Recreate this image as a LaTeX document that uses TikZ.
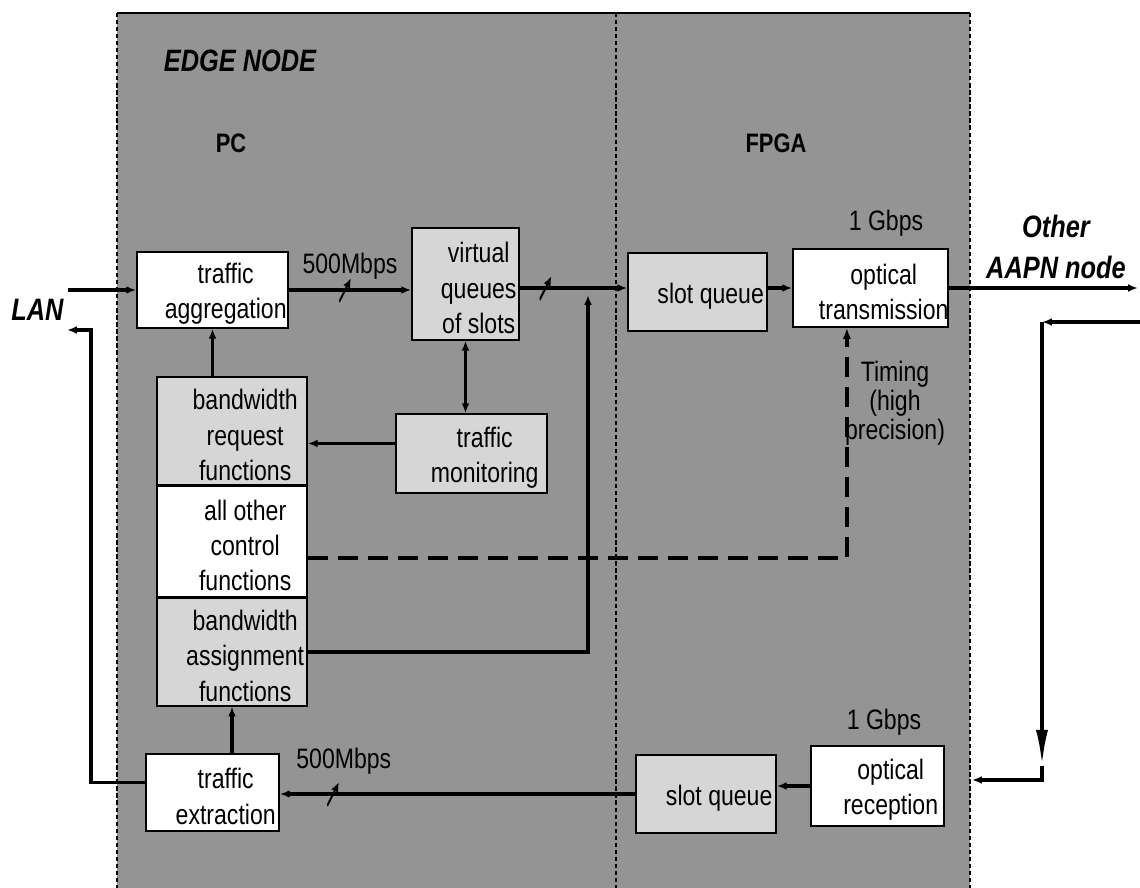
\documentclass[tikz,border=0pt]{standalone}
\usepackage{fontspec}
\setmainfont{Liberation Sans}[FakeStretch=0.82]
\usetikzlibrary{arrows.meta,positioning}
\newcommand{\edgefont}{\fontsize{20}{25}\selectfont}
\newcommand{\edgetitlefont}{\fontsize{22}{29}\selectfont\bfseries\itshape}
\definecolor{edgegray}{gray}{0.58}
\definecolor{edgelight}{gray}{0.84}
\tikzset{
  edge-box/.style={draw=black, line width=1pt, fill=white, inner sep=0pt},
  edge-box-light/.style={edge-box, fill=edgelight},
  edge-text/.style={font=\edgefont, align=center, inner sep=0pt, xshift=0.33cm, yshift=-0.1cm},
  edge-label/.style={font=\edgefont, align=center, inner sep=1pt},
  edge-title/.style={font=\edgetitlefont, align=center, inner sep=0pt},
  edge-part/.style={font=\fontsize{19}{22}\selectfont\bfseries, inner sep=0pt},
  edge-border/.style={line width=1.6pt, dash pattern=on 3pt off 2pt},
  edge-link/.style={-{Latex[length=7pt,width=5.5pt]}, line width=2.6pt},
  edge-both/.style={{Latex[length=7pt,width=5.5pt]}-{Latex[length=7pt,width=5.5pt]}, line width=2.6pt},
  edge-control/.style={-{Latex[length=8pt,width=6pt]}, line width=2.8pt, dash pattern=on 0.5cm off 0.25cm},
  edge-slash/.style={minimum width=0.3cm, minimum height=0.6cm, inner sep=0pt,
    path picture={\draw[line width=1.4pt] (path picture bounding box.south west) -- (path picture bounding box.north east);}}
}

\begin{document}
\begin{tikzpicture}[x=0.025cm, y=-0.025cm]
  \useasboundingbox (0,0) rectangle (1140,888);
  % edge node area, split into PC and FPGA
  \fill[edgegray] (117,13) rectangle (970,888);
  \draw[line width=0.8pt] (117,13) -- (970,13);
  \draw[edge-border] (117,13) -- (117,888);
  \draw[edge-border] (970,13) -- (970,888);
  \draw[edge-border] (616,13) -- (616,888);
  \node[edge-title] (edgenode) at (240,61) {EDGE NODE};
  \node[edge-part] (pc) at (231,143) {PC};
  \node[edge-part] (fpga) at (776,143) {FPGA};

  % sending side
  \node[edge-box, minimum width=3.78cm, minimum height=1.9cm, label={[edge-text]center:{traffic\\aggregation}}] (ta) at (212.5,290) {};
  \node[edge-box-light, minimum width=2.68cm, minimum height=2.8cm, label={[edge-text]center:{virtual\\queues\\of slots}}] (vq) at (465.5,284) {};
  \node[edge-box-light, minimum width=3.48cm, minimum height=1.95cm, label={[edge-text]center:{slot queue}}] (sqtx) at (697.5,292) {};
  \node[edge-box, minimum width=3.88cm, minimum height=1.95cm, label={[edge-text]center:{optical\\transmission}}] (ot) at (870.5,288) {};

  % control functions
  \node[edge-box-light, minimum width=3.75cm, minimum height=2.7cm, label={[edge-text]center:{bandwidth\\request\\functions}}] (bwr) at (232,431) {};
  \node[edge-box, minimum width=3.75cm, minimum height=2.75cm, below=0pt of bwr, label={[edge-text]center:{all other\\control\\functions}}] (aoc) {};
  \node[edge-box-light, minimum width=3.75cm, minimum height=2.7cm, below=0pt of aoc, label={[edge-text]center:{bandwidth\\assignment\\functions}}] (bwa) {};
  \node[edge-box-light, minimum width=3.78cm, minimum height=1.98cm, label={[edge-text]center:{traffic\\monitoring}}] (tm) at (471.5,453.5) {};

  % receiving side
  \node[edge-box, minimum width=3.33cm, minimum height=1.93cm, label={[edge-text]center:{traffic\\extraction}}] (te) at (212.5,792.5) {};
  \node[edge-box-light, minimum width=3.5cm, minimum height=1.95cm, label={[edge-text]center:{slot queue}}] (sqrx) at (706,794) {};
  \node[edge-box, minimum width=3.33cm, minimum height=2cm, label={[edge-text]center:{optical\\reception}}] (or) at (877.5,786) {};

  % outside labels
  \node[edge-title] (lan) at (37.5,310) {LAN};
  \node[edge-title] (aapn) at (1056,247) {Other\\AAPN node};
  \node[edge-label] (gbpstx) at (886,223) {1 Gbps};
  \node[edge-label] (gbpsrx) at (884,722) {1 Gbps};
  \node[font=\fontsize{20}{20.5}\selectfont, align=center, inner sep=0pt] (timing) at (895,403) {Timing\\(high\\precision)};

  \coordinate (lanin) at (68,290);
  \coordinate (lanout) at (67,330);
  \coordinate (otherout) at (1138,288);
  \coordinate (merge) at (588,295);
  \coordinate (retin) at (1140,322);
  \coordinate (rettop) at (1042,322);
  \coordinate (retdown) at (1042,766);
  \coordinate (retbot) at (1042,780);
  \coordinate (retend) at (972,780);

  % data path
  \draw[edge-link] (lanin) -- (ta.west);
  \draw[edge-link] (ta.east) -- node[pos=0.46, edge-slash] {} node[pos=0.5, above=5pt, edge-label] {500Mbps} (ta.east -| vq.west);
  \draw[edge-link] (vq.east |- ot.west) -- node[pos=0.24, edge-slash] {} (ot.west -| sqtx.west);
  \draw[edge-link] (sqtx.east |- ot.west) -- (ot.west);
  \draw[edge-link] (ot.east) -- (otherout);
  \draw[edge-link] (retin) -- (rettop);
  \draw[edge-link, -{Latex[length=0.9cm,width=0.3cm]}] (rettop) -- (retdown);
  \draw[edge-link] (retdown) -- (retbot) -- (retend);
  \draw[edge-link] (or.west) -- (or.west -| sqrx.east);
  \draw[edge-link] (sqrx.west) -- node[pos=0.85, edge-slash] {} node[pos=0.82, above=12pt, edge-label] {500Mbps} (sqrx.west -| te.east);
  \draw[edge-link] ([yshift=0.25cm]te.west) -- ++(-54,0) |- (lanout);

  % control path
  \draw[edge-link] (ta.south |- bwr.north) -- (ta.south);
  \draw[edge-link] (bwa.south |- te.north) -- (bwa.south);
  \draw[edge-link] ([yshift=0.25cm]tm.west) -- ([yshift=0.25cm]tm.west -| bwr.east);
  \draw[edge-both] (vq.south) -- (vq.south |- tm.north);
  \draw[edge-link] (bwa.east) -| (merge);
  \draw[edge-control] ([yshift=-0.42cm]aoc.east) -| ([xshift=-0.59cm]ot.south);
\end{tikzpicture}
\end{document}
